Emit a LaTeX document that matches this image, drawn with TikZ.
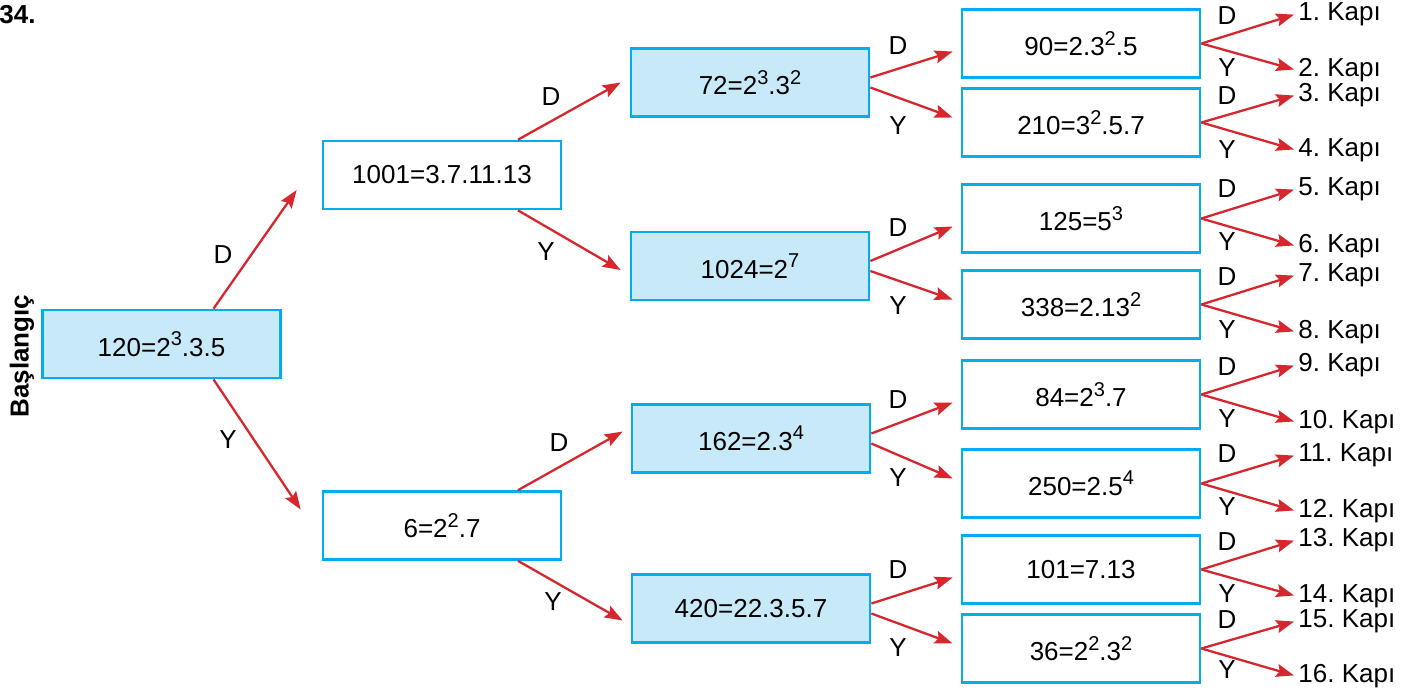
\documentclass[tikz,border=0pt]{standalone}
\usepackage{fontspec}
\setmainfont{Liberation Sans}
\usepackage{tikz}
\usepackage{xcolor}
\usetikzlibrary{arrows.meta, calc, positioning}
\definecolor{boxblue}{HTML}{00AEEF}
\definecolor{boxfill}{HTML}{C8E9F8}
\definecolor{arrowred}{HTML}{D6262E}
\tikzset{box/.style={draw=boxblue, line width=1.35pt, minimum width=119pt, minimum height=34pt, inner sep=0pt}}
\tikzset{boxc/.style={box, fill=boxfill}}
\tikzset{branch/.style={color=arrowred, line width=1.15pt, -{Stealth[length=9pt, width=6.5pt, inset=1.5pt]}}}
\tikzset{door/.style={anchor=west, inner sep=1pt}}
\tikzset{choice/.style={inner sep=0pt}}
\newcommand{\pw}[1]{\raisebox{5.3pt}{\fontsize{10pt}{12pt}\selectfont #1}}

\begin{document}
\frenchspacing
\begin{tikzpicture}[x=0.5pt, y=-0.5pt, font=\fontsize{13pt}{16pt}\selectfont]
            \useasboundingbox (0, 0) rectangle (1423, 698);

            \node [anchor=west, inner sep=0pt, font=\fontsize{13pt}{15pt}\selectfont\bfseries] (Num) at (-1, 15) { 34. };
            \node [rotate=90, inner sep=0pt, font=\fontsize{13pt}{16pt}\selectfont\bfseries] (Start) at (22, 356) { Başlangıç };

            \node [boxc] (N120) at (161.5, 344) { 120=2\pw{3}.3.5 };
            \node [box] (N1001) at (442, 175) { 1001=3.7.11.13 };
            \node [box] (N6) at (442, 525.5) { 6=2\pw{2}.7 };
            \node [boxc] (N72) at (750, 82.5) { 72=2\pw{3}.3\pw{2} };
            \node [boxc] (N1024) at (750, 266) { 1024=2\pw{7} };
            \node [boxc] (N162) at (751, 438.5) { 162=2.3\pw{4} };
            \node [boxc] (N420) at (751, 608.5) { 420=22.3.5.7 };

            \node [box] (N90) at (1081, 43.5) { 90=2.3\pw{2}.5 };
            \node [box] (N210) at (1081, 122.5) { 210=3\pw{2}.5.7 };
            \node [box] (N125) at (1081, 218.5) { 125=5\pw{3} };
            \node [box] (N338) at (1081, 304.5) { 338=2.13\pw{2} };
            \node [box] (N84) at (1081, 394.5) { 84=2\pw{3}.7 };
            \node [box] (N250) at (1081, 483.5) { 250=2.5\pw{4} };
            \node [box] (N101) at (1081, 569.5) { 101=7.13 };
            \node [box] (N36) at (1081, 648.5) { 36=2\pw{2}.3\pw{2} };

            \node [door] (K1) at (1296, 14) { 1. Kapı };
            \node [door] (K2) at (1296, 70) { 2. Kapı };
            \node [door] (K3) at (1296, 95) { 3. Kapı };
            \node [door] (K4) at (1296, 150) { 4. Kapı };
            \node [door] (K5) at (1296, 189) { 5. Kapı };
            \node [door] (K6) at (1296, 246) { 6. Kapı };
            \node [door] (K7) at (1296, 275) { 7. Kapı };
            \node [door] (K8) at (1296, 332) { 8. Kapı };
            \node [door] (K9) at (1296, 365) { 9. Kapı };
            \node [door] (K10) at (1296, 422) { 10. Kapı };
            \node [door] (K11) at (1296, 455) { 11. Kapı };
            \node [door] (K12) at (1296, 511) { 12. Kapı };
            \node [door] (K13) at (1296, 540) { 13. Kapı };
            \node [door] (K14) at (1296, 596) { 14. Kapı };
            \node [door] (K15) at (1296, 621) { 15. Kapı };
            \node [door] (K16) at (1296, 676) { 16. Kapı };

            \draw [branch] ([xshift=26pt]N120.north) -- ([shift={(-12.5pt,-7.5pt)}]N1001.west);
            \draw [branch] ([xshift=26pt]N120.south) -- ([shift={(-10.5pt,8pt)}]N6.west);
            \draw [branch] ([xshift=38pt]N1001.north) -- ([xshift=-4.5pt]N72.west);
            \draw [branch] ([xshift=38pt]N1001.south) -- ([shift={(-4.5pt,-2pt)}]N1024.west);
            \draw [branch] ([xshift=38pt]N6.north) -- ([shift={(-4pt,3.5pt)}]N162.west);
            \draw [branch] ([xshift=38pt]N6.south) -- ([shift={(-4pt,-6pt)}]N420.west);

            \draw [branch] ([yshift=2.5pt]N72.east) -- ([shift={(-4pt,-4pt)}]N90.west);
            \draw [branch] ([yshift=-2.5pt]N72.east) -- ([shift={(-4pt,2.5pt)}]N210.west);
            \draw [branch] ([yshift=2.5pt]N1024.east) -- ([shift={(-4pt,-4pt)}]N125.west);
            \draw [branch] ([yshift=-2.5pt]N1024.east) -- ([shift={(-4pt,2.5pt)}]N338.west);
            \draw [branch] ([yshift=2.5pt]N162.east) -- ([shift={(-4pt,-4pt)}]N84.west);
            \draw [branch] ([yshift=-2.5pt]N162.east) -- ([shift={(-4pt,2.5pt)}]N250.west);
            \draw [branch] ([yshift=2.5pt]N420.east) -- ([shift={(-4pt,-4pt)}]N101.west);
            \draw [branch] ([yshift=-2.5pt]N420.east) -- ([shift={(-4pt,2.5pt)}]N36.west);

            \draw [branch, shorten >=1pt] (N90.east) -- (K1.west);
            \draw [branch, shorten >=1pt] (N90.east) -- (K2.west);
            \draw [branch, shorten >=1pt] (N210.east) -- (K3.west);
            \draw [branch, shorten >=1pt] (N210.east) -- (K4.west);
            \draw [branch, shorten >=1pt] (N125.east) -- (K5.west);
            \draw [branch, shorten >=1pt] (N125.east) -- (K6.west);
            \draw [branch, shorten >=1pt] (N338.east) -- (K7.west);
            \draw [branch, shorten >=1pt] (N338.east) -- (K8.west);
            \draw [branch, shorten >=1pt] (N84.east) -- (K9.west);
            \draw [branch, shorten >=1pt] (N84.east) -- (K10.west);
            \draw [branch, shorten >=1pt] (N250.east) -- (K11.west);
            \draw [branch, shorten >=1pt] (N250.east) -- (K12.west);
            \draw [branch, shorten >=1pt] (N101.east) -- (K13.west);
            \draw [branch, shorten >=1pt] (N101.east) -- (K14.west);
            \draw [branch, shorten >=1pt] (N36.east) -- (K15.west);
            \draw [branch, shorten >=1pt] (N36.east) -- (K16.west);

            \node [choice] (D120) at (223, 255) { D };
            \node [choice] (Y120) at (228, 440) { Y };
            \node [choice] (D1001) at (551, 97) { D };
            \node [choice] (Y1001) at (546, 252) { Y };
            \node [choice] (D6) at (559, 443) { D };
            \node [choice] (Y6) at (553, 602) { Y };

            \node [choice] (D72) at (898, 46) { D };
            \node [choice] (Y72) at (898, 126) { Y };
            \node [choice] (D1024) at (898, 228) { D };
            \node [choice] (Y1024) at (898, 306) { Y };
            \node [choice] (D162) at (898, 400) { D };
            \node [choice] (Y162) at (898, 478) { Y };
            \node [choice] (D420) at (898, 570) { D };
            \node [choice] (Y420) at (898, 648) { Y };

            \node [choice] (D90) at (1227, 16) { D };
            \node [choice] (Y90) at (1227, 68) { Y };
            \node [choice] (D210) at (1227, 96) { D };
            \node [choice] (Y210) at (1227, 150) { Y };
            \node [choice] (D125) at (1227, 189) { D };
            \node [choice] (Y125) at (1227, 242) { Y };
            \node [choice] (D338) at (1227, 277) { D };
            \node [choice] (Y338) at (1227, 330) { Y };
            \node [choice] (D84) at (1227, 367) { D };
            \node [choice] (Y84) at (1227, 419) { Y };
            \node [choice] (D250) at (1227, 454) { D };
            \node [choice] (Y250) at (1227, 507) { Y };
            \node [choice] (D101) at (1227, 542) { D };
            \node [choice] (Y101) at (1227, 594) { Y };
            \node [choice] (D36) at (1227, 620) { D };
            \node [choice] (Y36) at (1227, 670) { Y };
        \end{tikzpicture}
\end{document}
